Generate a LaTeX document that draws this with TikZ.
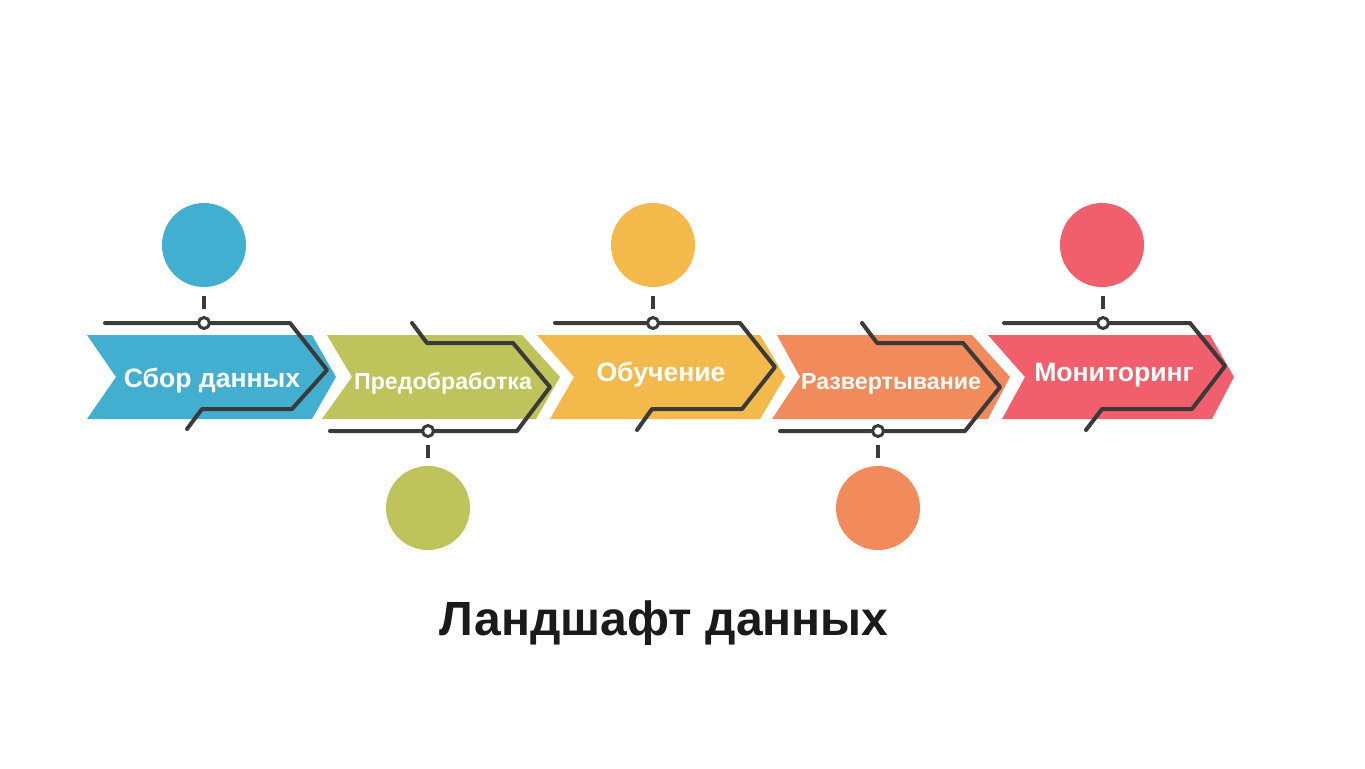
\documentclass[tikz,border=0pt]{standalone}
\usepackage{fontspec}
\setmainfont{Liberation Sans}
\definecolor{cblue}{HTML}{43AFD0}
\definecolor{cgreen}{HTML}{BEC35C}
\definecolor{cyellow}{HTML}{F3B94B}
\definecolor{ccoral}{HTML}{F28B5B}
\definecolor{cred}{HTML}{F15F6C}
\definecolor{wirec}{HTML}{3A3A3A}
\definecolor{ttl}{HTML}{1A1A1A}
\begin{document}
\begin{tikzpicture}[x=0.5pt,y=-0.5pt,
  wire/.style={draw=wirec,line width=2pt,line join=round,line cap=round},
  tick/.style={draw=wirec,line width=1.8pt},
  jdot/.style={circle,draw=wirec,fill=white,line width=1.5pt,minimum size=5.5pt,inner sep=0pt},
  bigdot/.style={circle,minimum size=42pt,inner sep=0pt},
  lbl/.style={anchor=base,text=white,inner sep=0pt,font=\bfseries\fontsize{13.3}{15}\selectfont},
  lbls/.style={anchor=base,text=white,inner sep=0pt,font=\bfseries\fontsize{11.6}{14}\selectfont}]
\fill[white] (0,0) rectangle (1365,768);
\useasboundingbox (0,0) rectangle (1365,768);
% chevrons
\fill[cblue]   (87,335) -- (312,335) -- (336,377) -- (312,419) -- (87,419) -- (116,377) -- cycle;
\fill[cgreen]  (327,335) -- (522,335) -- (560,377) -- (536,419) -- (322,419) -- (352,377) -- cycle;
\fill[cyellow] (537,335) -- (760,335) -- (785,377) -- (760,419) -- (550,419) -- (574,377) -- cycle;
\fill[ccoral]  (777,335) -- (972,335) -- (1010,377) -- (988,419) -- (772,419) -- (800,377) -- cycle;
\fill[cred]    (988,335) -- (1210,335) -- (1234,377) -- (1212,419) -- (1002,419) -- (1025,377) -- cycle;
% labels
\node[lbl]  (l1) at (212,387.5) {Сбор данных};
\node[lbls] (l2) at (443,389) {Предобработка};
\node[lbl]  (l3) at (661,381.5) {Обучение};
\node[lbls] (l4) at (891,389) {Развертывание};
\node[lbl]  (l5) at (1114,381.5) {Мониторинг};
% big circles
\node[bigdot,fill=cblue]   (c1) at (204,245) {};
\node[bigdot,fill=cgreen]  (c2) at (428,508) {};
\node[bigdot,fill=cyellow] (c3) at (653,245) {};
\node[bigdot,fill=ccoral]  (c4) at (878,508) {};
\node[bigdot,fill=cred]    (c5) at (1102,245) {};
% wires
\draw[wire] (105,323) -- (290,323) -- (327,370) -- (292,409) -- (202,409) -- (187,429);
\draw[wire] (412,323) -- (427,343) -- (513,343) -- (550,387) -- (517,431) -- (330,431);
\draw[wire] (555,323) -- (740,323) -- (775,367) -- (742,409) -- (652,409) -- (637,430);
\draw[wire] (862,323) -- (877,343) -- (963,343) -- (1000,387) -- (965,431) -- (780,431);
\draw[wire] (1004,323) -- (1190,323) -- (1225,366) -- (1192,409) -- (1102,409) -- (1086,430);
% junction dots
\node[jdot] (j1) at (204,323) {};
\node[jdot] (j2) at (428,431) {};
\node[jdot] (j3) at (653,323) {};
\node[jdot] (j4) at (878,431) {};
\node[jdot] (j5) at (1103,323) {};
% ticks
\draw[tick] (204,296) -- (204,309);
\draw[tick] (428,445) -- (428,458);
\draw[tick] (653,296) -- (653,309);
\draw[tick] (878,445) -- (878,458);
\draw[tick] (1103,296) -- (1103,309);
% title
\node[anchor=base,text=ttl,inner sep=0pt,font=\bfseries\fontsize{24}{28}\selectfont] (title) at (664,635) {Ландшафт данных};
\end{tikzpicture}
\end{document}
